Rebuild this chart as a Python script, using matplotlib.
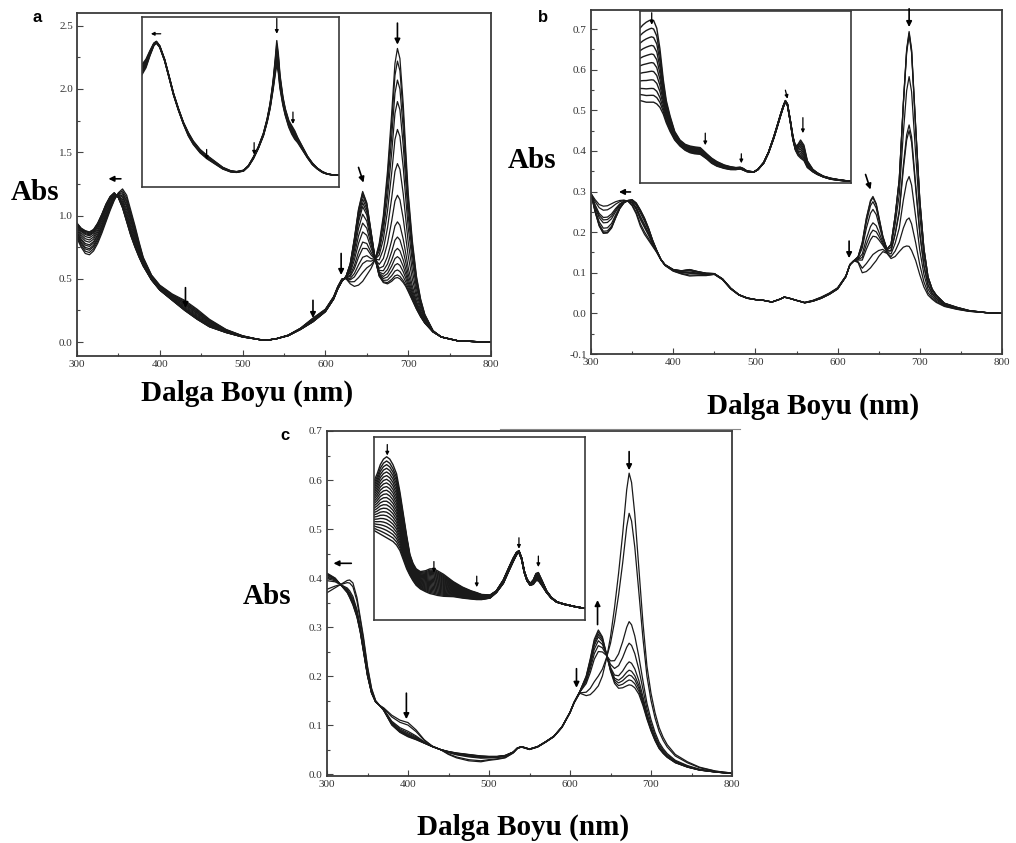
import numpy as np
import matplotlib
matplotlib.use("Agg")
import matplotlib.pyplot as plt
from matplotlib.ticker import MultipleLocator, FormatStrFormatter
from matplotlib.lines import Line2D

# ---------------- panel a : spectra ----------------
wl_a = [300, 305, 310, 315, 320, 325, 330, 335, 340, 345, 350, 355, 360, 365, 370, 375, 380, 390,
        400, 415, 430, 445, 460, 480, 500, 520, 530, 540, 555, 570, 585, 600, 610, 615, 620, 625,
        630, 635, 640, 645, 650, 655, 660, 665, 670, 675, 680, 684, 687, 690, 694, 697, 700, 705,
        710, 715, 720, 730, 740, 760, 780, 800]
first_a = [0.82, 0.75, 0.70, 0.69, 0.72, 0.78, 0.86, 0.95, 1.04, 1.12, 1.18, 1.21, 1.16, 1.04, 0.92, 0.79, 0.67, 0.53,
           0.45, 0.38, 0.33, 0.26, 0.18, 0.10, 0.05, 0.02, 0.016, 0.025, 0.055, 0.11, 0.19, 0.26, 0.36, 0.44, 0.50, 0.50,
           0.46, 0.44, 0.45, 0.48, 0.53, 0.58, 0.65, 0.78, 1.00, 1.35, 1.80, 2.20, 2.32, 2.24, 1.88, 1.52, 1.18, 0.80,
           0.52, 0.34, 0.22, 0.09, 0.04, 0.01, 0.004, 0.0]
last_a = [0.94, 0.90, 0.88, 0.87, 0.89, 0.94, 1.01, 1.09, 1.15, 1.18, 1.14, 1.06, 0.95, 0.84, 0.75, 0.67, 0.60, 0.49,
          0.41, 0.33, 0.25, 0.18, 0.12, 0.075, 0.04, 0.02, 0.016, 0.025, 0.05, 0.10, 0.16, 0.24, 0.34, 0.42, 0.48, 0.52,
          0.62, 0.82, 1.05, 1.19, 1.10, 0.88, 0.66, 0.52, 0.47, 0.46, 0.48, 0.505, 0.51, 0.50, 0.47, 0.44, 0.40, 0.33,
          0.26, 0.20, 0.15, 0.08, 0.04, 0.01, 0.004, 0.0]
peak687_a = [2.32, 2.22, 2.07, 1.90, 1.68, 1.41, 1.16, 0.95, 0.83, 0.74, 0.675, 0.62, 0.57, 0.53, 0.51]
peak645_a = [0.48, 0.55, 0.62, 0.67, 0.74, 0.79, 0.87, 0.94, 1.01, 1.07, 1.10, 1.13, 1.16, 1.18, 1.19]

# inset a
ins_x_a = [0, 0.02, 0.04, 0.06, 0.073, 0.09, 0.115, 0.14, 0.16, 0.185, 0.21, 0.235, 0.26, 0.295, 0.33, 0.37,
           0.41, 0.45, 0.48, 0.515, 0.54, 0.565, 0.59, 0.616, 0.635, 0.65, 0.665, 0.676, 0.684, 0.692, 0.70,
           0.715, 0.727, 0.745, 0.76, 0.775, 0.79, 0.815, 0.84, 0.865, 0.89, 0.915, 0.94, 0.97, 1.0]
ins_hi_a = [0.72, 0.75, 0.80, 0.845, 0.856, 0.83, 0.75, 0.64, 0.55, 0.46, 0.38, 0.32, 0.27, 0.22, 0.185, 0.15,
            0.115, 0.095, 0.09, 0.098, 0.125, 0.175, 0.235, 0.315, 0.40, 0.49, 0.62, 0.75, 0.86, 0.78, 0.66,
            0.53, 0.46, 0.39, 0.36, 0.33, 0.29, 0.235, 0.18, 0.14, 0.11, 0.09, 0.077, 0.07, 0.068]
ins_lo_a = [0.66, 0.70, 0.77, 0.83, 0.845, 0.82, 0.74, 0.63, 0.54, 0.45, 0.37, 0.30, 0.25, 0.20, 0.165, 0.135,
            0.105, 0.088, 0.085, 0.093, 0.12, 0.165, 0.225, 0.30, 0.38, 0.46, 0.57, 0.66, 0.72, 0.67, 0.58,
            0.48, 0.42, 0.35, 0.31, 0.28, 0.26, 0.215, 0.17, 0.13, 0.105, 0.085, 0.075, 0.07, 0.068]
ins_peak_a = [0.86, 0.84, 0.82, 0.80, 0.78, 0.76, 0.74, 0.72]

# ---------------- panel b : spectra ----------------
wl_b = [300, 305, 310, 315, 320, 325, 330, 335, 340, 345, 350, 355, 360, 365, 370, 375, 380, 385, 390, 400,
        410, 420, 430, 440, 450, 460, 470, 480, 490, 500, 510, 520, 530, 535, 540, 550, 560, 570, 580, 590,
        600, 610, 615, 620, 625, 630, 635, 640, 643, 647, 650, 655, 660, 665, 670, 675, 680, 684, 687, 690,
        695, 700, 705, 710, 715, 720, 730, 745, 760, 780, 800]
first_b = [0.295, 0.25, 0.215, 0.197, 0.198, 0.21, 0.235, 0.258, 0.272, 0.278, 0.28, 0.272, 0.255, 0.235, 0.21,
           0.18, 0.155, 0.133, 0.12, 0.108, 0.105, 0.108, 0.103, 0.099, 0.098, 0.085, 0.062, 0.046, 0.038, 0.034,
           0.032, 0.028, 0.035, 0.04, 0.038, 0.032, 0.026, 0.03, 0.037, 0.047, 0.06, 0.09, 0.12, 0.13, 0.14,
           0.175, 0.235, 0.278, 0.288, 0.27, 0.24, 0.19, 0.158, 0.17, 0.24, 0.33, 0.52, 0.65, 0.694, 0.65,
           0.46, 0.28, 0.16, 0.09, 0.06, 0.045, 0.025, 0.015, 0.007, 0.002, 0.0]
last_b = [0.295, 0.28, 0.268, 0.264, 0.265, 0.27, 0.275, 0.278, 0.279, 0.276, 0.265, 0.245, 0.215, 0.195, 0.18,
          0.165, 0.15, 0.132, 0.118, 0.104, 0.097, 0.092, 0.093, 0.093, 0.096, 0.083, 0.06, 0.045, 0.037, 0.034,
          0.032, 0.028, 0.035, 0.04, 0.038, 0.032, 0.027, 0.032, 0.04, 0.05, 0.063, 0.092, 0.12, 0.13, 0.125,
          0.10, 0.103, 0.112, 0.12, 0.13, 0.14, 0.152, 0.148, 0.135, 0.14, 0.152, 0.163, 0.166, 0.165, 0.155,
          0.13, 0.095, 0.065, 0.045, 0.035, 0.027, 0.017, 0.01, 0.005, 0.002, 0.0]
peak687_b = [0.694, 0.69, 0.685, 0.583, 0.464, 0.45, 0.337, 0.235, 0.165]
peak643_b = [0.288, 0.285, 0.275, 0.256, 0.223, 0.205, 0.19, 0.145, 0.12]

# inset b
ins_x_b = [0, 0.015, 0.03, 0.045, 0.055, 0.065, 0.08, 0.095, 0.111, 0.125, 0.143, 0.165, 0.19, 0.215, 0.238,
           0.26, 0.286, 0.30, 0.317, 0.34, 0.365, 0.40, 0.43, 0.455, 0.476, 0.49, 0.508, 0.54, 0.56, 0.587,
           0.61, 0.635, 0.65, 0.667, 0.68, 0.69, 0.70, 0.714, 0.726, 0.738, 0.75, 0.762, 0.778, 0.794, 0.82,
           0.841, 0.87, 0.905, 0.95, 1.0]
ins_hi_b = [0.90, 0.92, 0.935, 0.945, 0.95, 0.945, 0.90, 0.78, 0.60, 0.48, 0.39, 0.30, 0.25, 0.225, 0.215,
            0.21, 0.206, 0.19, 0.17, 0.145, 0.125, 0.105, 0.095, 0.09, 0.092, 0.085, 0.07, 0.065, 0.08, 0.12,
            0.18, 0.27, 0.33, 0.40, 0.45, 0.48, 0.46, 0.36, 0.27, 0.215, 0.225, 0.25, 0.22, 0.13, 0.08,
            0.06, 0.04, 0.028, 0.018, 0.01]
ins_lo_b = [0.48, 0.475, 0.47, 0.47, 0.47, 0.47, 0.46, 0.44, 0.40, 0.35, 0.30, 0.25, 0.215, 0.19, 0.176,
            0.17, 0.167, 0.155, 0.14, 0.115, 0.098, 0.085, 0.078, 0.078, 0.082, 0.075, 0.066, 0.063, 0.078, 0.115,
            0.175, 0.26, 0.32, 0.39, 0.44, 0.47, 0.45, 0.35, 0.25, 0.19, 0.16, 0.145, 0.13, 0.09, 0.065,
            0.05, 0.035, 0.022, 0.015, 0.01]
ins_peak_b = [0.95, 0.90, 0.85, 0.80, 0.75, 0.70, 0.65, 0.60, 0.55, 0.51, 0.47]

# ---------------- panel c : spectra ----------------
wl_c = [300, 305, 310, 315, 320, 325, 328, 332, 337, 341, 345, 350, 355, 360, 365, 370, 380, 390, 400, 410,
        420, 430, 440, 450, 460, 475, 490, 500, 510, 520, 530, 535, 540, 550, 560, 570, 580, 590, 600, 605,
        612, 620, 625, 630, 635, 640, 645, 650, 655, 660, 665, 670, 673, 676, 680, 685, 690, 695, 700, 705,
        710, 715, 720, 730, 745, 760, 780, 800]
first_c = [0.37, 0.375, 0.38, 0.385, 0.39, 0.395, 0.396, 0.39, 0.36, 0.32, 0.28, 0.22, 0.175, 0.15, 0.14, 0.135,
           0.12, 0.11, 0.105, 0.09, 0.07, 0.057, 0.05, 0.04, 0.033, 0.027, 0.025, 0.028, 0.03, 0.033, 0.043,
           0.052, 0.055, 0.05, 0.055, 0.065, 0.076, 0.095, 0.125, 0.145, 0.165, 0.16, 0.162, 0.17, 0.18, 0.20,
           0.235, 0.28, 0.34, 0.41, 0.49, 0.58, 0.614, 0.595, 0.53, 0.42, 0.31, 0.22, 0.165, 0.125, 0.095,
           0.075, 0.06, 0.04, 0.025, 0.014, 0.006, 0.002]
last_c = [0.41, 0.405, 0.40, 0.39, 0.38, 0.37, 0.36, 0.345, 0.32, 0.29, 0.25, 0.20, 0.165, 0.147, 0.14, 0.13,
          0.10, 0.085, 0.076, 0.07, 0.063, 0.056, 0.05, 0.046, 0.043, 0.04, 0.037, 0.036, 0.036, 0.038, 0.045,
          0.053, 0.056, 0.051, 0.056, 0.066, 0.077, 0.096, 0.126, 0.146, 0.168, 0.20, 0.235, 0.275, 0.294,
          0.28, 0.245, 0.21, 0.185, 0.175, 0.176, 0.18, 0.182, 0.181, 0.176, 0.163, 0.14, 0.112, 0.088, 0.068,
          0.052, 0.042, 0.034, 0.023, 0.014, 0.008, 0.004, 0.001]
peak673_c = [0.614, 0.532, 0.311, 0.267, 0.229, 0.212, 0.202, 0.192, 0.182]
peak635_c = [0.18, 0.20, 0.25, 0.262, 0.272, 0.28, 0.285, 0.29, 0.294]

# inset c
ins_x_c = [0, 0.015, 0.03, 0.045, 0.06, 0.075, 0.09, 0.107, 0.123, 0.139, 0.155, 0.17, 0.185, 0.2, 0.22,
           0.245, 0.265, 0.284, 0.30, 0.33, 0.376, 0.42, 0.46, 0.487, 0.51, 0.55, 0.58, 0.613, 0.64, 0.66,
           0.675, 0.687, 0.70, 0.712, 0.725, 0.74, 0.755, 0.768, 0.779, 0.795, 0.818, 0.84, 0.866, 0.9, 0.929,
           0.96, 1.0]
ins_hi_c = [0.76, 0.80, 0.85, 0.88, 0.893, 0.88, 0.85, 0.80, 0.70, 0.58, 0.46, 0.36, 0.31, 0.28, 0.265,
            0.27, 0.28, 0.28, 0.27, 0.25, 0.21, 0.18, 0.16, 0.15, 0.14, 0.137, 0.16, 0.22, 0.29, 0.34,
            0.37, 0.38, 0.34, 0.27, 0.225, 0.2, 0.22, 0.255, 0.26, 0.22, 0.16, 0.125, 0.10, 0.088, 0.08,
            0.072, 0.064]
ins_lo_c = [0.49, 0.48, 0.47, 0.46, 0.45, 0.44, 0.43, 0.41, 0.38, 0.33, 0.28, 0.245, 0.215, 0.19, 0.17,
            0.155, 0.145, 0.14, 0.135, 0.13, 0.128, 0.12, 0.115, 0.112, 0.112, 0.12, 0.15, 0.20, 0.27, 0.32,
            0.355, 0.37, 0.33, 0.26, 0.215, 0.19, 0.195, 0.215, 0.215, 0.19, 0.15, 0.12, 0.098, 0.086, 0.079,
            0.071, 0.064]
ins_peak_c = [0.893, 0.87, 0.85, 0.83, 0.81, 0.79, 0.77, 0.75, 0.73, 0.71, 0.69, 0.67, 0.65, 0.63, 0.61,
              0.59, 0.57, 0.55, 0.53, 0.51, 0.49, 0.47, 0.45]

SERIF = ["Liberation Serif", "DejaVu Serif"]
SANS = ["Liberation Sans", "DejaVu Sans"]
LINE = "#1a1a1a"
FW, FH = 1016, 843


def family(wl, first, last, blue_ref, blue_vals, red_ref, red_vals, split):
    """Spectra of a two-state titration: each trace mixes the first and last
    spectrum, with its own mixing share below and above the crossing point."""
    wl = np.asarray(wl, float)
    a = np.asarray(first, float)
    b = np.asarray(last, float)
    ib = wl.tolist().index(blue_ref)
    ir = wl.tolist().index(red_ref)
    traces = []
    for hb, hr in zip(blue_vals, red_vals):
        fb = (hb - a[ib]) / (b[ib] - a[ib])
        fr = (hr - a[ir]) / (b[ir] - a[ir])
        f = np.where(wl < split, fb, fr)
        traces.append(a + f * (b - a))
    return wl, traces


def inset_family(x, hi, lo, ref_x, vals):
    x = np.asarray(x, float)
    h = np.asarray(hi, float)
    l = np.asarray(lo, float)
    i = x.tolist().index(ref_x)
    out = []
    for v in vals:
        f = (h[i] - v) / (h[i] - l[i])
        out.append(h + f * (l - h))
    return x, out


def px_axes(left, top, right, bottom):
    return [left / FW, 1 - bottom / FH, (right - left) / FW, (bottom - top) / FH]


def style_axes(ax, ylim, ymaj, ymin, yfmt):
    ax.set_xlim(300, 800)
    ax.set_ylim(*ylim)
    ax.xaxis.set_major_locator(MultipleLocator(100))
    ax.xaxis.set_minor_locator(MultipleLocator(50))
    ax.yaxis.set_major_locator(MultipleLocator(ymaj))
    ax.yaxis.set_minor_locator(MultipleLocator(ymin))
    ax.yaxis.set_major_formatter(FormatStrFormatter(yfmt))
    ax.tick_params(which="both", direction="in", colors="#444", labelcolor="#333",
                   labelsize=8, width=0.8)
    ax.tick_params(which="major", length=4, pad=3)
    ax.tick_params(which="minor", length=2.5)
    for lab in ax.get_xticklabels() + ax.get_yticklabels():
        lab.set_family(SERIF)
    for s in ax.spines.values():
        s.set_linewidth(1.3)
        s.set_color("#3a3a3a")


def add_inset(ax, rect, x, traces, arrows):
    ins = ax.inset_axes(rect)
    for t in traces:
        ins.plot(x, t, color=LINE, lw=1.0, solid_joinstyle="round")
    ins.set_xlim(0, 1)
    ins.set_ylim(0, 1)
    ins.set_xticks([])
    ins.set_yticks([])
    for s in ins.spines.values():
        s.set_linewidth(1.2)
        s.set_color("#3a3a3a")
    for (x0, y0), (x1, y1) in arrows:
        ins.annotate("", xy=(x1, y1), xytext=(x0, y0),
                     arrowprops=dict(arrowstyle="-|>", color="k", lw=0.9,
                                     mutation_scale=5, shrinkA=0, shrinkB=0))
    return ins


def add_arrows(ax, arrows):
    for (x0, y0), (x1, y1) in arrows:
        ax.annotate("", xy=(x1, y1), xytext=(x0, y0),
                    arrowprops=dict(arrowstyle="-|>", color="k", lw=1.2,
                                    mutation_scale=8, shrinkA=0, shrinkB=0))


fig = plt.figure(figsize=(FW / 100, FH / 100), dpi=100)

# ---- a ----
ax_a = fig.add_axes(px_axes(77, 13, 491, 356))
x, tr = family(wl_a, first_a, last_a, 645, peak645_a, 687, peak687_a, 660)
for t in tr:
    ax_a.plot(x, t, color=LINE, lw=0.9, solid_joinstyle="round")
style_axes(ax_a, (-0.11, 2.6), 0.5, 0.25, "%.1f")
add_arrows(ax_a, [((353, 1.29), (338, 1.29)), ((431, 0.43), (431, 0.27)),
                  ((585, 0.33), (585, 0.19)), ((619, 0.70), (619, 0.53)),
                  ((640, 1.38), (646, 1.26)), ((687, 2.52), (687, 2.35))])
xa, tra = inset_family(ins_x_a, ins_hi_a, ins_lo_a, 0.684, ins_peak_a)
add_inset(ax_a, [0.157, 0.493, 0.476, 0.496], xa, tra,
          [((0.095, 0.90), (0.045, 0.90)), ((0.684, 0.99), (0.684, 0.90)),
           ((0.766, 0.44), (0.766, 0.37)), ((0.328, 0.22), (0.328, 0.16)),
           ((0.569, 0.26), (0.569, 0.19))])

# ---- b ----
ax_b = fig.add_axes(px_axes(591, 10, 1002, 354))
x, tr = family(wl_b, first_b, last_b, 643, peak643_b, 687, peak687_b, 660)
for t in tr:
    ax_b.plot(x, t, color=LINE, lw=0.9, solid_joinstyle="round")
style_axes(ax_b, (-0.1, 0.747), 0.1, 0.05, "%.1f")
add_arrows(ax_b, [((348, 0.299), (334, 0.299)), ((614, 0.178), (614, 0.136)),
                  ((634, 0.342), (640, 0.305)), ((687, 0.75), (687, 0.705))])
xb, trb = inset_family(ins_x_b, ins_hi_b, ins_lo_b, 0.055, ins_peak_b)
add_inset(ax_b, [0.119, 0.497, 0.513, 0.5], xb, trb,
          [((0.056, 0.99), (0.056, 0.92)), ((0.31, 0.29), (0.31, 0.22)),
           ((0.481, 0.17), (0.481, 0.115)), ((0.69, 0.54), (0.70, 0.49)),
           ((0.773, 0.38), (0.773, 0.29))])

# ---- c ----
ax_c = fig.add_axes(px_axes(327, 431, 732, 776))
x, tr = family(wl_c, first_c, last_c, 635, peak635_c, 673, peak673_c, 645)
for t in tr:
    ax_c.plot(x, t, color=LINE, lw=0.9, solid_joinstyle="round")
style_axes(ax_c, (-0.004, 0.7), 0.1, 0.05, "%.1f")
add_arrows(ax_c, [((330, 0.43), (308, 0.43)), ((398, 0.165), (398, 0.112)),
                  ((608, 0.215), (608, 0.176)), ((634, 0.305), (634, 0.355)),
                  ((673, 0.658), (673, 0.62))])
xc, trc = inset_family(ins_x_c, ins_hi_c, ins_lo_c, 0.06, ins_peak_c)
add_inset(ax_c, [0.116, 0.452, 0.521, 0.53], xc, trc,
          [((0.063, 0.96), (0.063, 0.90)), ((0.284, 0.32), (0.284, 0.26)),
           ((0.487, 0.24), (0.487, 0.18)), ((0.687, 0.45), (0.687, 0.39)),
           ((0.779, 0.35), (0.779, 0.29))])


# ---- labels ----
def ftext(x, y, s, **kw):
    fig.text(x / FW, 1 - y / FH, s, ha="center", va="center", **kw)


for (x0, y0), s in [((37, 18), "a"), ((543, 17), "b"), ((285, 435), "c")]:
    ftext(x0, y0, s, family=SANS, fontweight="bold", fontsize=12)
for x0, y0 in [(35, 192), (532, 160), (267, 597)]:
    ftext(x0, y0, "Abs", family=SERIF, fontweight="bold", fontsize=21)
for x0, y0 in [(247, 393), (813, 406), (523, 827)]:
    ftext(x0, y0, "Dalga Boyu (nm)", family=SERIF, fontweight="bold", fontsize=21)

fig.add_artist(Line2D([500 / FW, 740 / FW], [1 - 429 / FH, 1 - 429 / FH],
                      color="#888", lw=0.8))

fig.savefig("out.png", dpi=100, facecolor="white")
